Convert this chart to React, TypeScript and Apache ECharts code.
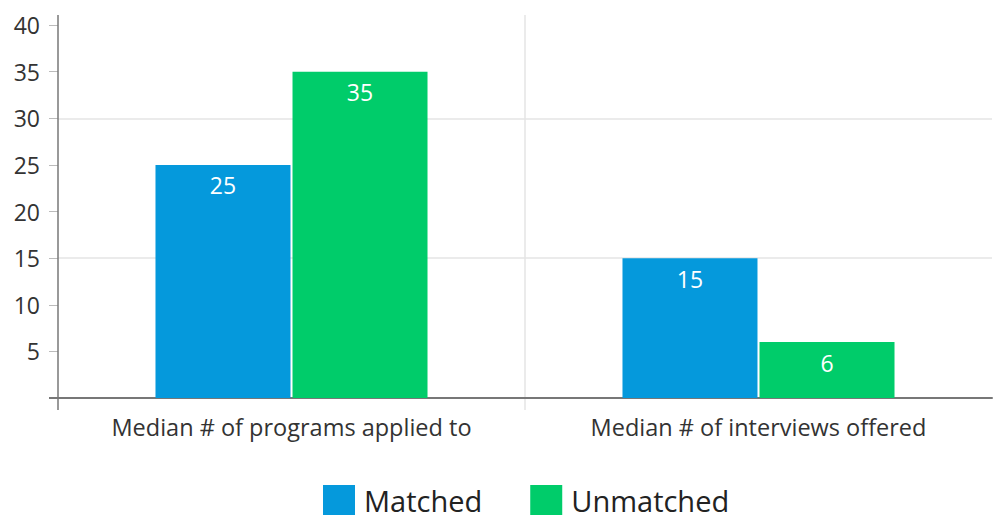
import React, { useEffect, useRef } from "react";
import * as echarts from "echarts";

const categories = ["Median # of programs applied to", "Median # of interviews offered"];
const matched = [25, 15];
const unmatched = [35, 6];
const seriesNames = ["Matched", "Unmatched"];
const gridValues = [15, 30];
const colors = ["#0599dc", "#00cc6a"];

const GRID = { left: 58, right: 2, top: 25, bottom: 123 };
const W = 994;
const H = 521;

export default function App() {
  const ref = useRef<HTMLDivElement>(null);
  useEffect(() => {
    if (!ref.current) return;
    const chart = echarts.init(ref.current, null, { renderer: "svg" });
    const font = "'Open Sans', 'Noto Sans', sans-serif";
    const sepX = GRID.left + (W - GRID.left - GRID.right) / 2;
    const baseY = H - GRID.bottom;
    const barLabel = {
      show: true,
      position: "insideTop",
      distance: 9,
      color: "#fff",
      fontSize: 23,
      fontFamily: font,
    };
    chart.setOption({
      animation: false,
      backgroundColor: "#ffffff",
      grid: { ...GRID, containLabel: false },
      legend: {
        top: 480,
        left: 318,
        itemWidth: 32,
        itemHeight: 30,
        itemGap: 48,
        icon: "rect",
        textStyle: {
          fontSize: 29,
          lineHeight: 30,
          color: "#222",
          fontFamily: font,
          padding: [0, 0, 0, 4],
        },
        data: seriesNames,
      },
      xAxis: {
        type: "category",
        data: categories,
        axisLine: { show: true, lineStyle: { color: "#777", width: 2 } },
        axisTick: { show: false },
        axisLabel: { interval: 0, fontSize: 23.5, color: "#333", fontFamily: font, margin: 17 },
        splitLine: { show: false },
      },
      yAxis: {
        type: "value",
        min: 0,
        max: 40,
        interval: 5,
        axisLine: { show: false },
        axisTick: { show: true, length: 9, lineStyle: { color: "#bbb" } },
        axisLabel: {
          fontSize: 23,
          color: "#333",
          fontFamily: font,
          margin: 18,
          formatter: (v: number) => (v === 0 ? "" : String(v)),
        },
        splitLine: { show: false },
      },
      graphic: [
        {
          type: "line",
          shape: { x1: GRID.left, y1: 15, x2: GRID.left, y2: baseY + 12 },
          style: { stroke: "#777", lineWidth: 1.5 },
          z: 10,
        },
        {
          type: "line",
          shape: { x1: sepX, y1: 15, x2: sepX, y2: baseY + 12 },
          style: { stroke: "#e4e4e4", lineWidth: 1.5 },
          z: 0,
        },
        {
          type: "line",
          shape: { x1: GRID.left - 9, y1: baseY, x2: GRID.left, y2: baseY },
          style: { stroke: "#777", lineWidth: 2 },
          z: 10,
        },
      ],
      series: [
        {
          name: "grid",
          type: "line",
          data: [],
          z: 0,
          silent: true,
          markLine: {
            z: 0,
            silent: true,
            symbol: "none",
            label: { show: false },
            lineStyle: { color: "#e4e4e4", width: 1.5, type: "solid" },
            data: gridValues.map((v) => ({ yAxis: v })),
          },
        },
        {
          name: seriesNames[0],
          type: "bar",
          data: matched,
          barWidth: 135,
          barGap: "1.5%",
          z: 3,
          itemStyle: { color: colors[0] },
          label: barLabel,
        },
        {
          name: seriesNames[1],
          type: "bar",
          data: unmatched,
          barWidth: 135,
          barGap: "1.5%",
          z: 3,
          itemStyle: { color: colors[1] },
          label: barLabel,
        },
      ],
    });
    return () => chart.dispose();
  }, []);
  return (
    <div
      ref={ref}
      style={{ position: "absolute", left: 0, top: 0, width: W, height: H }}
    />
  );
}
